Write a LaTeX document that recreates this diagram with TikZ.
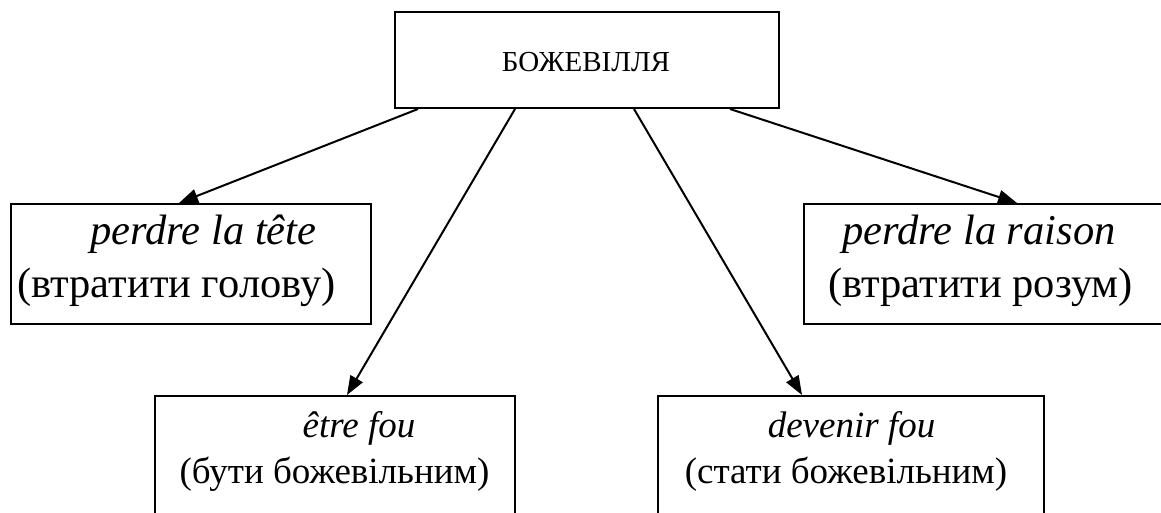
\documentclass[tikz,border=0pt]{standalone}
\usepackage{fontspec}
\setmainfont{Liberation Serif}
\usetikzlibrary{arrows.meta}
\tikzset{
  box/.style={draw, line width=2pt, rectangle, inner sep=0pt, anchor=north west},
  lbl/.style={anchor=base, inner sep=0pt, font=\fontsize{42.5}{50}\selectfont},
  lowlbl/.style={anchor=base, inner sep=0pt, font=\fontsize{37}{44}\selectfont},
  toplbl/.style={anchor=base, inner sep=0pt, font=\fontsize{29}{34}\selectfont},
  arr/.style={line width=2pt, -{Triangle[length=19pt,width=14pt]}}
}
\begin{document}
\begin{tikzpicture}[x=1pt,y=-1pt]
\useasboundingbox (0,0) rectangle (1161,513);
\clip (0,0) rectangle (1161,513);
\fill[white] (0,0) rectangle (1161,513);
% boxes
\node[box, minimum width=384pt, minimum height=96pt] (top) at (394,11) {};
\node[box, minimum width=360pt, minimum height=120pt] (left) at (10,203) {};
\node[box, minimum width=362pt, minimum height=120pt] (right) at (803,203) {};
\node[box, minimum width=360pt, minimum height=140pt] (bl) at (154,395) {};
\node[box, minimum width=386pt, minimum height=140pt] (br) at (657,395) {};
% texts
\node[toplbl] (t0) at (586,72) {БОЖЕВІЛЛЯ};
\node[lbl] (l1) at (203.5,244) {\itshape perdre la tête};
\node[lbl] (l2) at (176.5,297) {(втратити голову)};
\node[lbl] (r1) at (979,244) {\itshape perdre la raison};
\node[lbl] (r2) at (980.5,297) {(втратити розум)};
\node[lowlbl] (b1) at (359,437) {\itshape être fou};
\node[lowlbl] (b2) at (334.5,483) {(бути божевільним)};
\node[lowlbl] (c1) at (851.5,437) {\itshape devenir fou};
\node[lowlbl] (c2) at (846,483) {(стати божевільним)};
% connector ends
\path (top.south west) ++(24,0) coordinate (s1);
\path (top.south west) ++(121,0) coordinate (s2);
\path (top.south west) ++(240,0) coordinate (s3);
\path (top.south west) ++(336,0) coordinate (s4);
\path (left.north west) ++(169,0) coordinate (e1);
\path (bl.north west) ++(193,0) coordinate (e2);
\path (br.north west) ++(145,0) coordinate (e3);
\path (right.north west) ++(214,0) coordinate (e4);
\draw[arr] (s1) -- (e1);
\draw[arr] (s2) -- (e2);
\draw[arr] (s3) -- (e3);
\draw[arr] (s4) -- (e4);
\end{tikzpicture}
\end{document}
